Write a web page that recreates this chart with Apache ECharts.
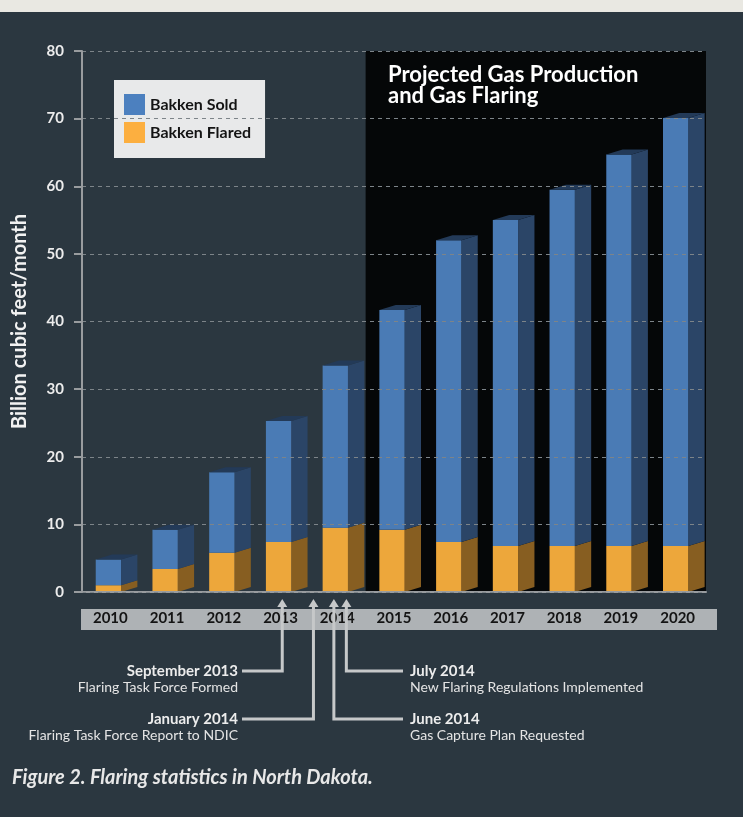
<!DOCTYPE html>
<html>
<head>
<meta charset="utf-8">
<script src="https://cdn.jsdelivr.net/npm/echarts@6/dist/echarts.min.js"></script>
<style>
html,body{margin:0;padding:0;background:#2b3740;}
#c{width:743px;height:817px;}
</style>
</head>
<body>
<div id="c"></div>
<script>
// ---- data ----
var years = ['2010','2011','2012','2013','2014','2015','2016','2017','2018','2019','2020'];
var flared = [1.0, 3.4, 5.8, 7.4, 9.5, 9.2, 7.4, 6.8, 6.8, 6.8, 6.8];
var sold   = [3.8, 5.8, 11.9, 17.9, 24.0, 32.5, 44.6, 48.2, 52.7, 57.9, 63.3];
var yTicks = [0, 10, 20, 30, 40, 50, 60, 70, 80];
var projectedFrom = '2015', projectedTo = '2020';
var events = [
  {cat:'2013', frac:0.53, title:'September 2013', text:'Flaring Task Force Formed', side:'left', level:0},
  {cat:'2014', frac:0.08, title:'January 2014', text:'Flaring Task Force Report to NDIC', side:'left', level:1},
  {cat:'2014', frac:0.44, title:'June 2014', text:'Gas Capture Plan Requested', side:'right', level:1},
  {cat:'2014', frac:0.66, title:'July 2014', text:'New Flaring Regulations Implemented', side:'right', level:0}
];

var FONT = 'Lato';
var AXIS_COL = '#999c9f';
var chart = echarts.init(document.getElementById('c'), null, {renderer:'canvas'});

function seg(colors, withTop) {
  return function (params, api) {
    var i = api.value(0), base = api.value(1), val = api.value(2);
    var p0 = api.coord([i, base]);
    var p1 = api.coord([i, base + val]);
    var bw = api.size([1, 0])[0];
    var left = p0[0] - bw * 0.258;
    var w = bw * 0.446;
    var dx = bw * 0.288, dy = 5;
    var children = [
      {type:'polygon', shape:{points:[[left+w,p0[1]],[left+w+dx,p0[1]-dy],[left+w+dx,p1[1]-dy],[left+w,p1[1]]]}, style:{fill:colors[1]}},
      {type:'rect', shape:{x:left, y:p1[1], width:w, height:p0[1]-p1[1]}, style:{fill:colors[0]}}
    ];
    if (withTop) {
      children.push({type:'polygon', shape:{points:[[left,p1[1]],[left+dx,p1[1]-dy],[left+w+dx,p1[1]-dy],[left+w,p1[1]]]}, style:{fill:colors[2]}});
    }
    return {type:'group', children:children};
  };
}

var flaredData = years.map(function(y,i){ return [i, 0, flared[i]]; });
var soldData = years.map(function(y,i){ return [i, flared[i], sold[i]]; });

var option = {
  backgroundColor:'#2b3740',
  animation:false,
  textStyle:{fontFamily:FONT},
  grid:{left:82, right:37, top:51, bottom:225, containLabel:false},
  legend:{
    data:['Bakken Sold','Bakken Flared'],
    orient:'vertical', left:114, top:80,
    backgroundColor:'#e8e9ea', padding:[14,14,15,10], itemGap:7,
    icon:'rect', itemWidth:21, itemHeight:21,
    textStyle:{color:'#141414', fontWeight:'bold', fontSize:16, fontFamily:FONT},
    selectedMode:false
  },
  xAxis:{
    type:'category', data:years, boundaryGap:true,
    axisLine:{lineStyle:{color:AXIS_COL, width:2}},
    axisTick:{length:8, lineStyle:{color:AXIS_COL, width:2}},
    axisLabel:{color:'#141414', fontWeight:'bold', fontSize:15, margin:19, fontFamily:FONT},
    z:3
  },
  yAxis:{
    type:'value', min:yTicks[0], max:yTicks[yTicks.length-1], interval:10,
    name:'Billion cubic feet/month', nameLocation:'middle', nameGap:52,
    nameTextStyle:{color:'#f2f2f2', fontWeight:'bold', fontSize:20, fontFamily:FONT},
    axisLine:{show:true, onZero:false, lineStyle:{color:AXIS_COL, width:2}},
    axisTick:{show:true, length:8, lineStyle:{color:AXIS_COL, width:2}},
    axisLabel:{color:'#ececec', fontWeight:'bold', fontSize:15, margin:18, fontFamily:FONT},
    splitLine:{show:true, lineStyle:{color:'#7d8489', type:[4,4], width:1}},
    z:4
  },
  graphic:[
    {type:'rect', left:0, top:0, shape:{width:743, height:12}, style:{fill:'#e9e8e2'}, z:0},
    {type:'rect', shape:{x:81, y:609, width:636, height:21}, style:{fill:'#aeb2b5'}, z:1},
    {type:'text', left:388, top:64, style:{text:'Projected Gas Production\nand Gas Flaring', fill:'#ffffff', font:'bold 22px ' + FONT, lineHeight:21}, z:10},
    {type:'text', left:12, top:768, style:{text:'Figure 2. Flaring statistics in North Dakota.', fill:'#e8e8e8', font:'italic bold 20px ' + FONT}, z:10}
  ],
  series:[
    {
      type:'custom', name:'projected', z:-1, silent:true,
      data:[[years.indexOf(projectedFrom), years.indexOf(projectedTo)]],
      renderItem:function(params, api){
        var a = api.value(0), b = api.value(1);
        var bw = api.size([1,0])[0];
        var x0 = api.coord([a, yTicks[0]])[0] - bw/2;
        var x1 = api.coord([b, yTicks[0]])[0] + bw/2;
        var yT = api.coord([a, yTicks[yTicks.length-1]])[1];
        var yB = api.coord([a, yTicks[0]])[1];
        return {type:'rect', shape:{x:x0, y:yT, width:x1-x0, height:yB-yT}, style:{fill:'#050708'}};
      }
    },
    {
      type:'custom', name:'Bakken Flared', z:3,
      itemStyle:{color:'#fcaf40'},
      encode:{x:0, y:[1,2]},
      data:flaredData,
      renderItem:seg(['#eda73b','#875e21','#6e4c1a'], false)
    },
    {
      type:'custom', name:'Bakken Sold', z:3,
      itemStyle:{color:'#4c80bf'},
      encode:{x:0, y:[1,2]},
      data:soldData,
      renderItem:seg(['#4a7bb5','#2b4567','#233a58'], true)
    }
  ]
};
chart.setOption(option);

// y-axis line + annotations positioned from the axes
var bwPx = chart.convertToPixel({xAxisIndex:0}, years[1]) - chart.convertToPixel({xAxisIndex:0}, years[0]);
var axisX = chart.convertToPixel({xAxisIndex:0}, years[0]) - bwPx/2;
var yTopPx = chart.convertToPixel({yAxisIndex:0}, yTicks[yTicks.length-1]);
var yBotPx = chart.convertToPixel({yAxisIndex:0}, yTicks[0]);
var g = [
  {type:'line', shape:{x1:axisX, y1:yTopPx, x2:axisX, y2:yBotPx}, style:{stroke:AXIS_COL, lineWidth:2}, z:50}
];
var elbowY = [671, 719];
var tipY = 599;
var col = '#c6c8c9';
events.forEach(function(e){
  var cx = chart.convertToPixel({xAxisIndex:0}, e.cat) - bwPx/2 + e.frac*bwPx;
  var ey = elbowY[e.level];
  var ex = e.side === 'left' ? 242 : 403;
  g.push({type:'polyline', shape:{points:[[cx, tipY+6],[cx, ey],[ex, ey]]}, style:{stroke:col, lineWidth:3, fill:null}, z:20});
  g.push({type:'polygon', shape:{points:[[cx, tipY],[cx-5, tipY+8],[cx+5, tipY+8]]}, style:{fill:col}, z:20});
  var tx = e.side === 'left' ? 238 : 410;
  var align = e.side === 'left' ? 'right' : 'left';
  g.push({type:'text', x:tx, y:ey-7, style:{text:e.title, fill:'#ececec', font:'bold 15px ' + FONT, align:align, verticalAlign:'top'}, z:20});
  g.push({type:'text', x:tx, y:ey+9, style:{text:e.text, fill:'#e4e4e4', font:'14px ' + FONT, align:align, verticalAlign:'top'}, z:20});
});
chart.setOption({graphic: option.graphic.concat(g)});
</script>
</body>
</html>
